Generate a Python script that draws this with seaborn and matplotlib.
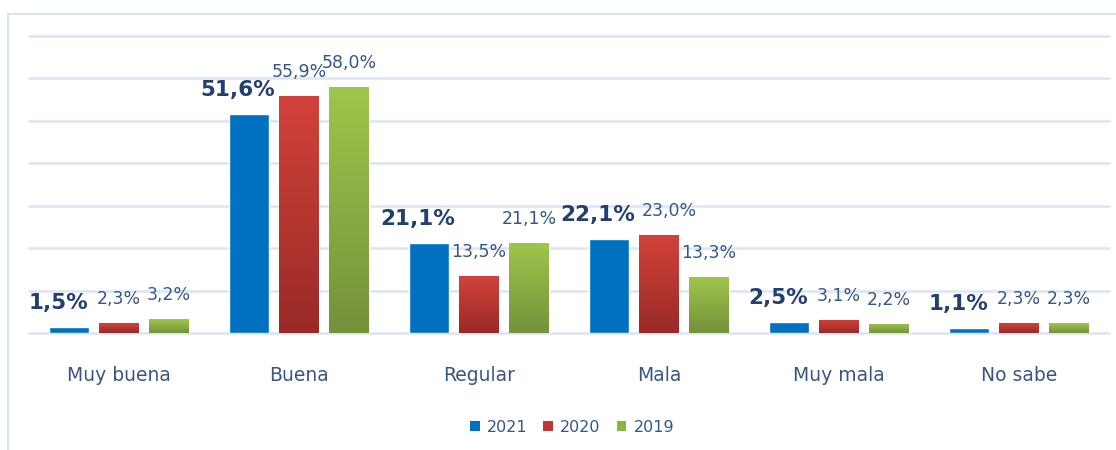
import numpy as np
import pandas as pd
import matplotlib
matplotlib.use("Agg")
import matplotlib.pyplot as plt
import seaborn as sns
from matplotlib.colors import LinearSegmentedColormap
from matplotlib.patches import Rectangle, Patch

categories = ["Muy buena", "Buena", "Regular", "Mala", "Muy mala", "No sabe"]
years = ["2021", "2020", "2019"]
v2021 = [1.5, 51.6, 21.1, 22.1, 2.5, 1.1]
v2020 = [2.3, 55.9, 13.5, 23.0, 3.1, 2.3]
v2019 = [3.2, 58.0, 21.1, 13.3, 2.2, 2.3]

df = pd.DataFrame({
    "cat": categories * 3,
    "year": [years[0]] * 6 + [years[1]] * 6 + [years[2]] * 6,
    "val": v2021 + v2020 + v2019,
})

base_colors = {"2021": "#0070C0", "2020": "#C0372F", "2019": "#8CB443"}
grad_colors = {"2020": ("#9A2A26", "#D2423B"), "2019": ("#75913A", "#9FC64C")}

sns.set_style("white")
plt.rcParams["font.family"] = ["DejaVu Sans"]

W, H = 1116, 450
fig = plt.figure(figsize=(W / 100, H / 100), dpi=100)
ax = fig.add_axes([29 / W, 117 / H, 1080 / W, 297 / H])

sns.barplot(data=df, x="cat", y="val", hue="year", hue_order=years,
            palette=base_colors, width=0.833, gap=0.2, saturation=1,
            legend=False, ax=ax, zorder=2)

# gradients on 2020 / 2019 bars
for yi, cont in enumerate(ax.containers):
    yr = years[yi]
    if yr not in grad_colors:
        continue
    cmap = LinearSegmentedColormap.from_list("g" + yr, list(grad_colors[yr]))
    grad = np.linspace(0, 1, 256).reshape(-1, 1)
    for bar in cont.patches:
        x0, y0 = bar.get_x(), bar.get_y()
        x1, y1 = x0 + bar.get_width(), y0 + bar.get_height()
        im = ax.imshow(grad, extent=[x0, x1, y0, y1], origin="lower",
                       cmap=cmap, aspect="auto", zorder=3)
        im.set_clip_path(bar)

# small manual nudges (pixels) for label legibility
nudge = {(3, 1): 10}

# value labels
for yi, cont in enumerate(ax.containers):
    for ci, bar in enumerate(cont.patches):
        val = bar.get_height()
        txt = f"{val:.1f}".replace(".", ",") + "%"
        cx = bar.get_x() + bar.get_width() / 2
        dx = nudge.get((ci, yi), 0)
        if yi == 0:
            ax.annotate(txt, xy=(cx, val), xytext=(-11 + dx, 24),
                        textcoords="offset pixels", ha="center", va="center",
                        fontsize=15.5, fontweight="bold", color="#223F70",
                        zorder=5)
        else:
            ax.annotate(txt, xy=(cx, val), xytext=(dx, 24),
                        textcoords="offset pixels", ha="center", va="center",
                        fontsize=12.5, color="#34568A", zorder=5)

ax.set_xlim(-0.5, 5.5)
ax.set_ylim(0, 70)
ax.set_yticks(np.arange(0, 71, 10))
ax.set_yticklabels([])
ax.yaxis.grid(True, color="#DCE5F3", lw=1.8)
ax.xaxis.grid(False)
ax.set_axisbelow(True)
for gl in ax.get_ygridlines():
    gl.set_clip_on(False)
for s in ax.spines.values():
    s.set_visible(False)
ax.tick_params(axis="both", length=0)
ax.tick_params(axis="x", labelsize=13.5, labelcolor="#3A5584", pad=24)
ax.set_xlabel("")
ax.set_ylabel("")

# outer frame
fig.add_artist(Rectangle((8 / W, -0.1), 1.2, (1 - 14 / H) + 0.1,
                         transform=fig.transFigure, fill=False,
                         edgecolor="#D9E3F2", lw=1.5))

handles = [Patch(facecolor=base_colors[y], edgecolor="none") for y in years]
fig.legend(handles, years, loc="center", bbox_to_anchor=(572 / W, 23 / H),
           ncol=3, frameon=False, fontsize=11.5, handlelength=0.6,
           handleheight=0.6, handletextpad=0.45, columnspacing=1.0,
           labelcolor="#34568A")

fig.savefig("out.png", dpi=100)
